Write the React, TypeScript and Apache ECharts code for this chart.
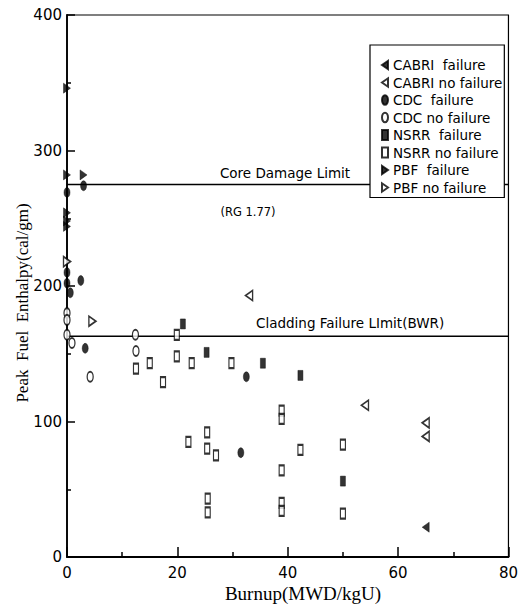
import React, { useEffect, useRef } from "react";
import * as echarts from "echarts";

const seriesNames = [
  "CABRI  failure",
  "CABRI no failure",
  "CDC  failure",
  "CDC no failure",
  "NSRR  failure",
  "NSRR no failure",
  "PBF  failure",
  "PBF no failure",
];

const cabriFailure = [[65, 22]];
const cabriNoFailure = [[33, 193], [54, 112], [65, 99], [65, 89]];
const cdcFailure = [[0, 269], [3, 274], [0, 210], [0, 202], [0.6, 195], [2.5, 204], [3.3, 154], [32.5, 133], [31.5, 77]];
const cdcNoFailure = [[0, 180], [0, 175], [0, 164], [0.9, 158], [4.2, 133], [12.4, 164], [12.5, 152]];
const nsrrFailure = [[21, 172], [25.3, 151], [35.5, 143], [42.3, 134], [50, 56]];
const nsrrNoFailure = [
  [12.5, 139], [15, 143], [17.4, 129], [19.9, 164], [19.9, 148], [22.6, 143], [29.8, 143],
  [38.9, 108], [38.9, 102], [22, 85], [25.4, 92], [25.4, 80], [27, 75], [42.3, 79], [50, 83],
  [38.9, 64], [25.5, 43], [25.5, 33], [38.9, 40], [38.9, 34], [50, 32],
];
const pbfFailure = [[0, 346], [0, 282], [3, 282], [0, 254], [0, 248], [0, 244]];
const pbfNoFailure = [[0, 218], [4.6, 174]];

const coreDamageLimit = 275;
const claddingFailureLimit = 163;
const xRange = [0, 80];
const yRange = [0, 400];

const TRI_LEFT = "path://M10,0 L10,14 L0,7 Z";
const TRI_RIGHT = "path://M0,0 L0,14 L10,7 Z";
const ELLIPSE = "path://M5,0 A5,8 0 1,1 5,16 A5,8 0 1,1 5,0 Z";

function scatter(name: string, data: number[][], symbol: string, size: number[], filled: boolean) {
  return {
    name,
    type: "scatter",
    data,
    symbol,
    symbolSize: size,
    clip: false,
    z: 5,
    itemStyle: filled
      ? { color: "#000", borderColor: "#000", borderWidth: 0.5 }
      : { color: "#fff", borderColor: "#000", borderWidth: 1.6 },
  };
}

function limitLine(value: number) {
  return {
    type: "line",
    data: [[xRange[0], value], [xRange[1], value]],
    symbol: "none",
    silent: true,
    z: 3,
    lineStyle: { color: "#000", width: 1.5 },
  };
}

export default function App() {
  const ref = useRef<HTMLDivElement>(null);
  useEffect(() => {
    if (!ref.current) return;
    const chart = echarts.init(ref.current, null, { renderer: "svg" });
    const tickFont = { fontFamily: "DejaVu Sans", fontSize: 15, color: "#000" };
    chart.setOption({
      animation: false,
      backgroundColor: "#fff",
      grid: { left: 67, right: 8, top: 15, bottom: 47, show: true, borderColor: "#000", borderWidth: 1.2 },
      xAxis: {
        type: "value",
        min: xRange[0],
        max: xRange[1],
        interval: 20,
        axisLine: { lineStyle: { color: "#000", width: 1.8 } },
        axisTick: { inside: true, length: 10, lineStyle: { color: "#000", width: 1.5 } },
        minorTick: { show: true, splitNumber: 2, length: 5, lineStyle: { color: "#000", width: 1.5 } },
        splitLine: { show: false },
        axisLabel: { ...tickFont, margin: 8 },
      },
      yAxis: {
        type: "value",
        min: yRange[0],
        max: yRange[1],
        interval: 100,
        axisLine: { lineStyle: { color: "#000", width: 1.8 } },
        axisTick: { inside: true, length: 8, lineStyle: { color: "#000", width: 1.5 } },
        minorTick: { show: true, splitNumber: 2, length: 4, lineStyle: { color: "#000", width: 1.5 } },
        splitLine: { show: false },
        axisLabel: { ...tickFont, margin: 5 },
      },
      legend: {
        data: seriesNames,
        orient: "vertical",
        left: 370,
        top: 45,
        padding: [13, 2, 3, 11],
        itemGap: 3.5,
        itemWidth: 6,
        itemHeight: 10,
        backgroundColor: "#fff",
        borderColor: "#000",
        borderWidth: 1.2,
        textStyle: { fontFamily: "DejaVu Sans", fontSize: 13.5, color: "#000", lineHeight: 13 },
        z: 10,
      },
      graphic: [
        {
          type: "text",
          x: 285,
          y: 173,
          z: 20,
          style: { text: "Core Damage Limit", align: "center", verticalAlign: "middle", font: "13.5px 'DejaVu Sans'", fill: "#000" },
        },
        {
          type: "text",
          x: 248,
          y: 212,
          z: 20,
          style: { text: "(RG 1.77)", align: "center", verticalAlign: "middle", font: "11.5px 'DejaVu Sans'", fill: "#000" },
        },
        {
          type: "text",
          x: 256,
          y: 323,
          z: 20,
          style: { text: "Cladding Failure LImit(BWR)", align: "left", verticalAlign: "middle", font: "13.5px 'DejaVu Sans'", fill: "#000" },
        },
        {
          type: "text",
          x: 303,
          y: 593,
          z: 20,
          style: { text: "Burnup(MWD/kgU)", align: "center", verticalAlign: "middle", font: "19px 'Liberation Serif'", fill: "#000" },
        },
        {
          type: "text",
          x: 22,
          y: 303,
          rotation: Math.PI / 2,
          z: 20,
          style: { text: "Peak  Fuel  Enthalpy(cal/gm)", align: "center", verticalAlign: "middle", font: "17px 'Liberation Serif'", fill: "#000" },
        },
      ],
      series: [
        limitLine(coreDamageLimit),
        limitLine(claddingFailureLimit),
        scatter(seriesNames[0], cabriFailure, TRI_LEFT, [7, 10], true),
        scatter(seriesNames[1], cabriNoFailure, TRI_LEFT, [7, 10], false),
        scatter(seriesNames[2], cdcFailure, ELLIPSE, [6, 10], true),
        scatter(seriesNames[3], cdcNoFailure, ELLIPSE, [6, 10], false),
        scatter(seriesNames[4], nsrrFailure, "rect", [5, 10], true),
        scatter(seriesNames[5], nsrrNoFailure, "rect", [5, 10], false),
        scatter(seriesNames[6], pbfFailure, TRI_RIGHT, [7, 10], true),
        scatter(seriesNames[7], pbfNoFailure, TRI_RIGHT, [7, 10], false),
      ],
    });
    return () => chart.dispose();
  }, []);
  return <div ref={ref} style={{ position: "absolute", left: 0, top: 0, width: 521, height: 604 }} />;
}
